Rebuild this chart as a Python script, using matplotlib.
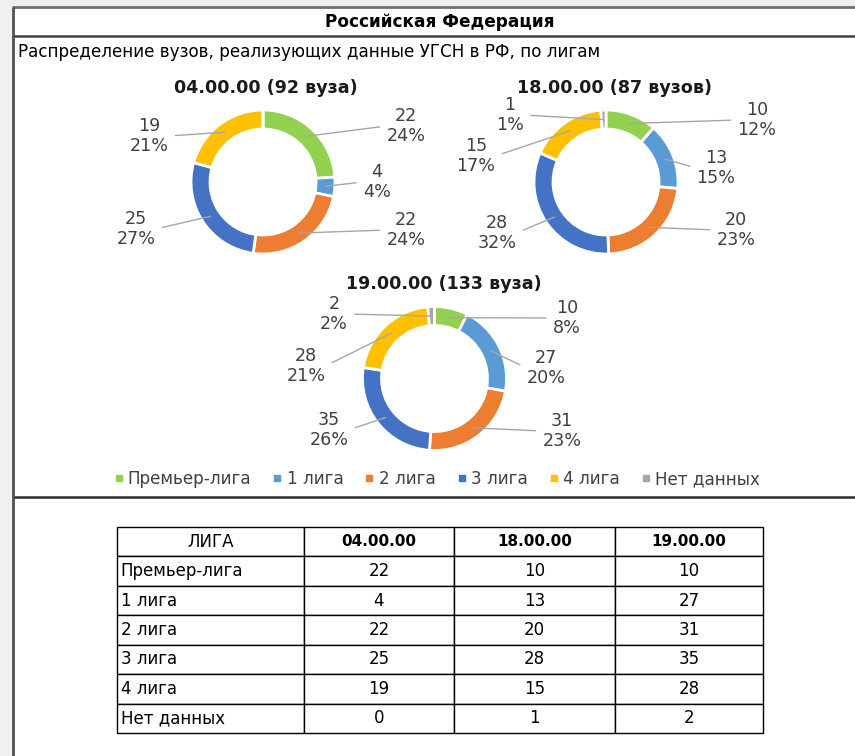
import matplotlib
matplotlib.use('Agg')
import matplotlib.pyplot as plt
from matplotlib.lines import Line2D
from matplotlib.patches import Rectangle
import numpy as np

plt.rcParams['font.family'] = ['DejaVu Sans']

# ---------------- data ----------------
leagues = ['Премьер-лига', '1 лига', '2 лига', '3 лига', '4 лига', 'Нет данных']
codes = ['04.00.00', '18.00.00', '19.00.00']
totals_text = ['92 вуза', '87 вузов', '133 вуза']
vals_04 = [22, 4, 22, 25, 19, 0]
vals_18 = [10, 13, 20, 28, 15, 1]
vals_19 = [10, 27, 31, 35, 28, 2]
colors = ['#92D050', '#5B9BD5', '#ED7D31', '#4472C4', '#FFC000', '#A5A5A5']

main_title = 'Российская Федерация'
subtitle = 'Распределение вузов, реализующих данные УГСН в РФ, по лигам'
table_head = 'ЛИГА'

# ---------------- layout (pixels, image coords) ----------------
W, H = 855, 756
R, RING = 72, 19
donut_centers = [(263, 182), (606, 182), (434.5, 378.5)]
title_pos = [(266, 88), (614, 88), (444, 284)]
label_pos = [
    [(406, 126), (377, 182), (406, 230), (136, 229), (149, 136), None],
    [(757, 120), (716, 168), (736, 230), (497, 233), (476, 156), (510, 115)],
    [(567, 318), (546, 368), (562, 431), (329, 430), (306, 366), (334, 314)],
]


def pct_largest_remainder(vals):
    tot = sum(vals)
    raw = [100 * v / tot for v in vals]
    fl = [int(np.floor(r)) for r in raw]
    rest = 100 - sum(fl)
    order = sorted(range(len(vals)), key=lambda i: raw[i] - fl[i], reverse=True)
    for i in order[:rest]:
        fl[i] += 1
    return fl


def Y(y):
    return H - y


fig = plt.figure(figsize=(W / 100, H / 100), dpi=100)
fig.patch.set_facecolor('#F0F0F0')
ax = fig.add_axes([0, 0, 1, 1])
ax.set_axis_off()

# content background
ax.add_patch(Rectangle((12, 0), W - 12, Y(7), facecolor='white', edgecolor='none', zorder=0))

all_vals = [vals_04, vals_18, vals_19]
for k, vals in enumerate(all_vals):
    cx, cy = donut_centers[k]
    wedges, _ = ax.pie(vals, colors=colors, radius=R, center=(cx, Y(cy)),
                       startangle=90, counterclock=False,
                       wedgeprops=dict(width=RING, edgecolor='white', linewidth=2))
    pcts = pct_largest_remainder(vals)
    rmid = R - RING / 2
    for i, w in enumerate(wedges):
        if vals[i] == 0 or label_pos[k][i] is None:
            continue
        a = np.deg2rad((w.theta1 + w.theta2) / 2)
        px, py = cx + rmid * np.cos(a), Y(cy) + rmid * np.sin(a)
        lx, ly = label_pos[k][i]
        rel = (0, 0.5) if lx > px else (1, 0.5)
        ax.annotate(f'{vals[i]}\n{pcts[i]}%', xy=(px, py), xytext=(lx, Y(ly)),
                    ha='center', va='center', fontsize=12.6, color='#404040',
                    linespacing=1.1, annotation_clip=False,
                    arrowprops=dict(arrowstyle='-', color='#A6A6A6', lw=1,
                                    relpos=rel, shrinkA=3, shrinkB=0))
    tx, ty = title_pos[k]
    ax.text(tx, Y(ty), f'{codes[k]} ({totals_text[k]})', ha='center', va='center',
            fontsize=12.6, fontweight='bold', color='#1a1a1a')

ax.set_xlim(0, W)
ax.set_ylim(0, H)
ax.set_aspect('auto')

# frame lines
ax.plot([12, W], [Y(7), Y(7)], color='#707070', lw=2, solid_capstyle='butt')
ax.plot([12, W], [Y(36), Y(36)], color='#404040', lw=1.8, solid_capstyle='butt')
ax.plot([12, W], [Y(497), Y(497)], color='#303030', lw=1.8, solid_capstyle='butt')
ax.plot([12.5, 12.5], [0, Y(7)], color='#505050', lw=2, solid_capstyle='butt')

ax.text(440, Y(22), main_title, ha='center', va='center', fontsize=12.2,
        fontweight='bold', color='black')
ax.text(18, Y(52), subtitle, ha='left', va='center', fontsize=12.1, color='black')

# legend
handles = [Line2D([], [], marker='s', linestyle='none', markersize=5,
                  markerfacecolor=c, markeredgecolor=c) for c in colors]
leg = ax.legend(handles, leagues, loc='center', bbox_to_anchor=(437 / W, Y(479) / H),
                ncol=6, frameon=False, fontsize=12.1, handlelength=0.5,
                handletextpad=0.3, columnspacing=1.3, borderpad=0)
for t in leg.get_texts():
    t.set_color('#404040')

# table
rows = [[leagues[i], str(vals_04[i]), str(vals_18[i]), str(vals_19[i])]
        for i in range(len(leagues))]
cw = [187, 150, 161, 148]
cw = [c / sum(cw) for c in cw]
tb = ax.table(cellText=rows, colLabels=[table_head] + codes, colWidths=cw,
              bbox=[117 / W, Y(733) / H, (763 - 117) / W, (733 - 527) / H],
              cellLoc='center')
tb.auto_set_font_size(False)
for (r, c), cell in tb.get_celld().items():
    cell.set_edgecolor('black')
    cell.set_linewidth(1)
    txt = cell.get_text()
    txt.set_fontsize(12)
    txt.set_color('black')
    if r == 0 and c > 0:
        txt.set_fontweight('bold')
        txt.set_fontsize(11)
    if r > 0 and c == 0:
        cell._loc = 'left'
        cell.PAD = 0.02
        txt.set_ha('left')

fig.savefig('out.png', dpi=100, facecolor=fig.get_facecolor())
